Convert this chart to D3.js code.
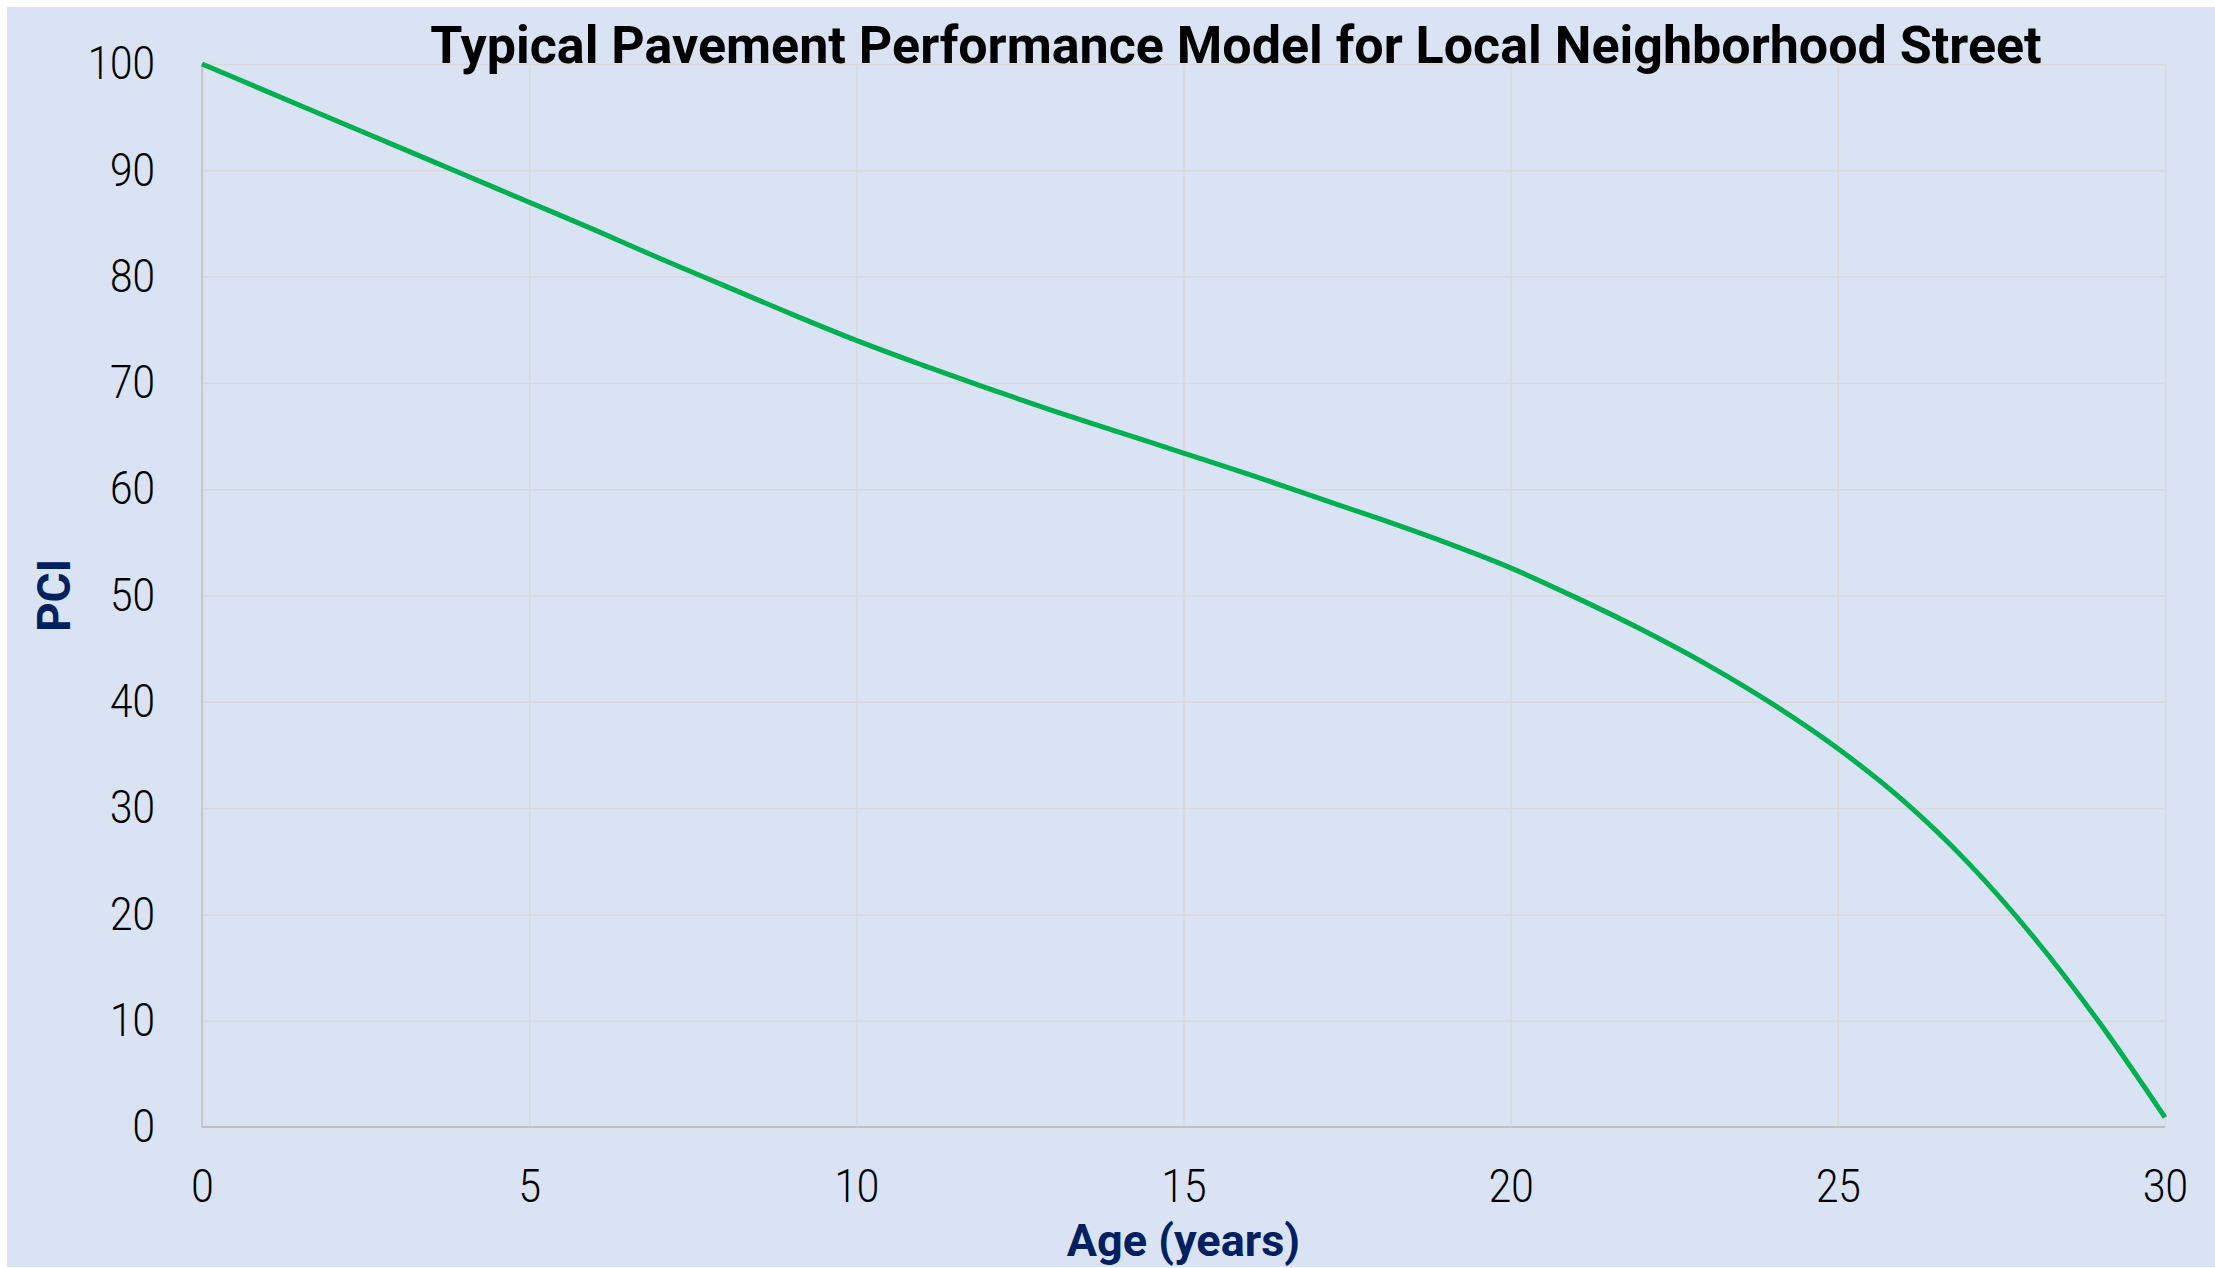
<!DOCTYPE html>
<html>
<head>
<meta charset="utf-8">
<script src="https://cdn.jsdelivr.net/npm/d3@7"></script>
<style>
  html, body { margin: 0; padding: 0; background: #fff; }
  svg { display: block; }
</style>
</head>
<body>
<div id="chart"></div>
<script>
// chart data
const titleText = 'Typical Pavement Performance Model for Local Neighborhood Street';
const xLabel = 'Age (years)';
const yLabel = 'PCI';
const ages = [0, 1, 2, 3, 4, 5, 6, 7, 8, 9, 10, 11, 12, 13, 14, 15,
	16, 17, 18, 19, 20, 21, 22, 23, 24, 25, 26, 27, 28, 29, 30];
const pci = [100, 97.4, 94.8, 92.2, 89.6, 87.0, 84.4, 81.7, 79.1, 76.5, 74.0,
	71.7, 69.5, 67.4, 65.4, 63.4, 61.4, 59.3, 57.2, 55.0, 52.6,
	49.8, 46.8, 43.5, 39.8, 35.6, 30.7, 24.8, 17.8, 9.8, 0.9];
const xTicks = [0, 5, 10, 15, 20, 25, 30];
const yTicks = [0, 10, 20, 30, 40, 50, 60, 70, 80, 90, 100];

const W = 2215, H = 1268;
const margin = {top: 64, right: 50, bottom: 141, left: 202};
const width = W - margin.left - margin.right;
const height = H - margin.top - margin.bottom;

const tickFont = 'Roboto, "Liberation Sans", sans-serif';
const boldFont = 'Roboto, "Liberation Sans", sans-serif';
const squeeze = 0.88; // tick digits are condensed in the original

const svg = d3.select('#chart').append('svg')
	.attr('width', W)
	.attr('height', H);

svg.append('rect')
	.attr('x', 7).attr('y', 7)
	.attr('width', W - 7).attr('height', H - 8)
	.attr('fill', '#dae3f3');

const graph = svg.append('g')
	.attr('transform', `translate(${margin.left},${margin.top})`);

const x = d3.scaleLinear().domain([0, 30]).range([0, width]);
const y = d3.scaleLinear().domain([0, 100]).range([height, 0]);

// gridlines + tick labels
graph.append('g')
	.attr('transform', `translate(0,${height})`)
	.call(d3.axisBottom(x).tickValues(xTicks).tickSize(-height).tickPadding(42))
	.call(g => g.select('.domain').remove())
	.call(g => g.selectAll('.tick line').attr('stroke', '#d9d9d9').attr('stroke-width', 1.5))
	.call(g => g.selectAll('.tick text')
		.attr('font-family', tickFont)
		.attr('font-weight', 300)
		.attr('font-size', 46)
		.attr('fill', '#000')
		.attr('transform', `scale(${squeeze},1)`));

graph.append('g')
	.call(d3.axisLeft(y).tickValues(yTicks).tickSize(-width).tickPadding(47))
	.call(g => g.select('.domain').remove())
	.call(g => g.selectAll('.tick line').attr('stroke', '#d9d9d9').attr('stroke-width', 1.5))
	.call(g => g.selectAll('.tick text')
		.attr('font-family', tickFont)
		.attr('font-weight', 300)
		.attr('font-size', 46)
		.attr('fill', '#000')
		.attr('x', -47 / squeeze)
		.attr('transform', `scale(${squeeze},1)`));

// axis lines
graph.append('line')
	.attr('x1', 0).attr('x2', 0)
	.attr('y1', 0).attr('y2', height)
	.attr('stroke', '#bfbfbf').attr('stroke-width', 1.5);
graph.append('line')
	.attr('x1', 0).attr('x2', width)
	.attr('y1', height).attr('y2', height)
	.attr('stroke', '#bfbfbf').attr('stroke-width', 2);

// curve
const data = ages.map((a, i) => ({age: a, pci: pci[i]}));
const line = d3.line()
	.x(d => x(d.age))
	.y(d => y(d.pci))
	.curve(d3.curveMonotoneX);

graph.append('path')
	.datum(data)
	.attr('fill', 'none')
	.attr('stroke', '#00b050')
	.attr('stroke-width', 5)
	.attr('stroke-linejoin', 'round')
	.attr('d', line);

// titles
svg.append('text')
	.attr('x', 1236).attr('y', 63)
	.attr('text-anchor', 'middle')
	.attr('font-family', boldFont)
	.attr('font-weight', 'bold')
	.attr('font-size', 52)
	.attr('fill', '#000')
	.text(titleText);

svg.append('text')
	.attr('x', margin.left + width / 2).attr('y', 1256)
	.attr('text-anchor', 'middle')
	.attr('font-family', boldFont)
	.attr('font-weight', 'bold')
	.attr('font-size', 45)
	.attr('fill', '#002060')
	.text(xLabel);

svg.append('text')
	.attr('transform', `translate(70,${margin.top + height / 2}) rotate(-90)`)
	.attr('text-anchor', 'middle')
	.attr('font-family', boldFont)
	.attr('font-weight', 'bold')
	.attr('font-size', 46)
	.attr('fill', '#002060')
	.text(yLabel);
</script>
</body>
</html>
